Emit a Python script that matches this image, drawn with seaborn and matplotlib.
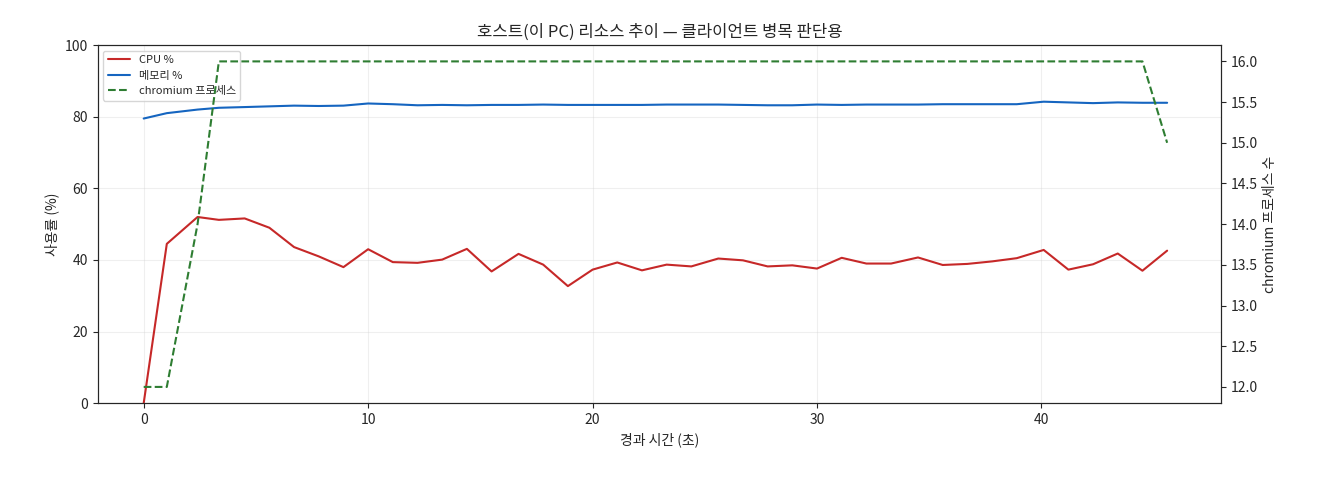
import matplotlib
matplotlib.use("Agg")
import matplotlib.pyplot as plt
import seaborn as sns

sns.set_style("ticks")
plt.rcParams['font.family'] = ['Noto Sans CJK KR', 'DejaVu Sans']
plt.rcParams['axes.unicode_minus'] = False

# 경과 시간 (초)
elapsed = [0.0, 1.03, 2.4, 3.35, 4.5, 5.6, 6.7, 7.8, 8.9, 10.0, 11.1, 12.2, 13.3, 14.4,
           15.5, 16.7, 17.8, 18.9, 20.0, 21.1, 22.2, 23.3, 24.4, 25.6, 26.7, 27.8,
           28.9, 30.0, 31.1, 32.2, 33.3, 34.5, 35.6, 36.7, 37.8, 38.9, 40.1, 41.2,
           42.3, 43.4, 44.5, 45.6]
cpu = [0.0, 44.5, 52.0, 51.2, 51.6, 49.0, 43.6, 41.0, 38.0, 43.0, 39.4, 39.2, 40.1, 43.1,
       36.8, 41.7, 38.7, 32.7, 37.3, 39.3, 37.1, 38.7, 38.2, 40.4, 39.9, 38.2,
       38.5, 37.6, 40.6, 39.0, 39.0, 40.7, 38.6, 38.9, 39.6, 40.5, 42.8, 37.3,
       38.8, 41.8, 37.0, 42.6]
mem = [79.5, 81.0, 82.0, 82.5, 82.7, 82.9, 83.1, 83.0, 83.1, 83.7, 83.5, 83.2, 83.3, 83.2,
       83.3, 83.3, 83.4, 83.3, 83.3, 83.3, 83.3, 83.4, 83.4, 83.4, 83.3, 83.2,
       83.2, 83.4, 83.3, 83.4, 83.4, 83.4, 83.5, 83.5, 83.5, 83.5, 84.2, 84.0,
       83.8, 84.0, 83.9, 83.9]
procs = [12, 12, 14, 16, 16, 16, 16, 16, 16, 16, 16, 16, 16, 16,
         16, 16, 16, 16, 16, 16, 16, 16, 16, 16, 16, 16,
         16, 16, 16, 16, 16, 16, 16, 16, 16, 16, 16, 16,
         16, 16, 16, 15]

fig, ax = plt.subplots(figsize=(13.2, 4.8), dpi=100)
fig.subplots_adjust(left=0.074, right=0.925, top=0.906, bottom=0.16)

sns.lineplot(x=elapsed, y=cpu, ax=ax, color='#c62828', lw=1.5, label='CPU %')
sns.lineplot(x=elapsed, y=mem, ax=ax, color='#1565c0', lw=1.5, label='메모리 %')
ax.set_ylim(0, 100)
ax.set_xlim(-2.05, 48.0)
ax.grid(alpha=0.3)
ax.set_xlabel('경과 시간 (초)')
ax.set_ylabel('사용률 (%)')
ax.set_title('호스트(이 PC) 리소스 추이 — 클라이언트 병목 판단용')

ax2 = ax.twinx()
sns.lineplot(x=elapsed, y=procs, ax=ax2, color='#2e7d32', lw=1.5, linestyle='--',
             label='chromium 프로세스', legend=False)
ax2.set_ylabel('chromium 프로세스 수')

h1, l1 = ax.get_legend_handles_labels()
h2, l2 = ax2.get_legend_handles_labels()
ax.legend(h1 + h2, l1 + l2, loc='upper left', fontsize=8)

fig.savefig('out.png', dpi=100)
